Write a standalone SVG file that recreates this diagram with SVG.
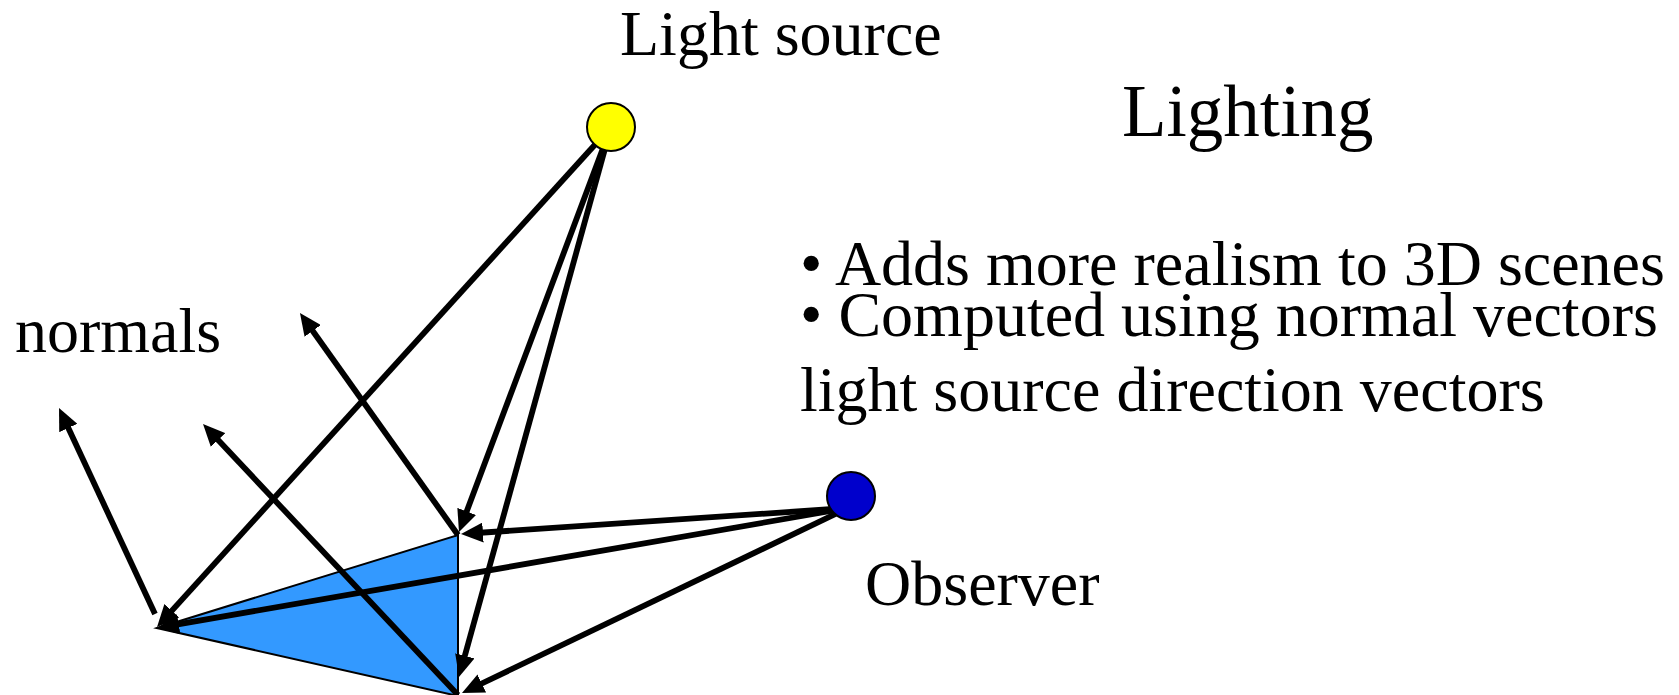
<svg xmlns="http://www.w3.org/2000/svg" width="1679" height="695" viewBox="0 0 1679 695">
<style>
text{font-family:"Liberation Serif","Times New Roman",serif;fill:#000}
.l{fill:none;stroke:#000;stroke-width:5.8;marker-end:url(#ah)}
</style>
<defs>
<marker id="ah" markerUnits="userSpaceOnUse" markerWidth="22" markerHeight="20" viewBox="0 0 22 20" refX="14" refY="10" orient="auto"><path d="M0,0 L22,10 L0,20 z" fill="#000"/></marker>
</defs>
<rect width="1679" height="695" fill="#fff"/>
<g id="surface"><polygon points="157,628 458,535 458,696" fill="#3399FF" stroke="#000" stroke-width="2"/></g>
<g id="connectors">
<line class="l" x1="155" y1="614" x2="62.4" y2="415.3"/>
<line class="l" x1="458" y1="695" x2="208.5" y2="429.8"/>
<line class="l" x1="458" y1="535" x2="304.6" y2="319.5"/>
<line class="l" x1="611" y1="127" x2="162.4" y2="621.1"/>
<line class="l" x1="611" y1="127" x2="461.8" y2="524.5"/>
<line class="l" x1="611" y1="127" x2="461.1" y2="669.3"/>
<line class="l" x1="848" y1="508" x2="469.0" y2="533.5"/>
<line class="l" x1="848" y1="508" x2="164.9" y2="626.6"/>
<line class="l" x1="848" y1="508" x2="469.2" y2="689.5"/>
</g>
<g id="light"><circle cx="611" cy="127" r="24" fill="#FFFF00" stroke="#000" stroke-width="2"/></g>
<g id="observer"><circle cx="851" cy="496" r="24" fill="#0000CC" stroke="#000" stroke-width="2"/></g>
<g id="labels">
<text x="620" y="55" font-size="64">Light source</text>
<text x="1122" y="136" font-size="73">Lighting</text>
<text x="15" y="352" font-size="64">normals</text>
<text x="865" y="605" font-size="64">Observer</text>
<text x="800" y="285" font-size="64">• Adds more realism to 3D scenes</text>
<text x="800" y="336" font-size="64">• Computed using normal vectors</text>
<text x="800" y="411" font-size="64">light source direction vectors</text>
</g>
</svg>
